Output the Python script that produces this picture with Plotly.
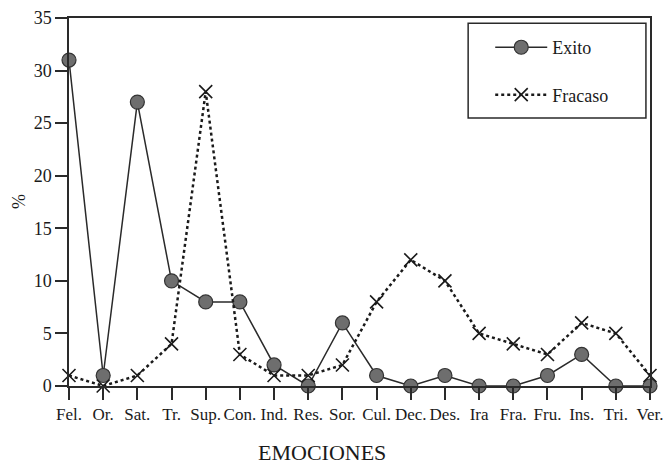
import plotly.graph_objects as go

categories = ["Fel.", "Or.", "Sat.", "Tr.", "Sup.", "Con.", "Ind.", "Res.", "Sor.",
              "Cul.", "Dec.", "Des.", "Ira", "Fra.", "Fru.", "Ins.", "Tri.", "Ver."]
exito = [31, 1, 27, 10, 8, 8, 2, 0, 6, 1, 0, 1, 0, 0, 1, 3, 0, 0]
fracaso = [1, 0, 1, 4, 28, 3, 1, 1, 2, 8, 12, 10, 5, 4, 3, 6, 5, 1]
y_ticks = [0, 5, 10, 15, 20, 25, 30, 35]

x_pos = list(range(len(categories)))
FONT = "Liberation Serif, Times New Roman, serif"

fig = go.Figure()
fig.add_trace(go.Scatter(
    x=x_pos, y=exito, name="Exito", mode="lines+markers",
    line=dict(color="#2a2a2a", width=1.5),
    marker=dict(symbol="circle", size=14, color="#6e6e6e",
                line=dict(color="#333333", width=1.2)),
    cliponaxis=False, legendgroup="a",
))
fig.add_trace(go.Scatter(
    x=x_pos, y=fracaso, name="Fracaso", mode="lines+markers",
    line=dict(color="#1a1a1a", width=2.5, dash="dot"),
    marker=dict(symbol="x-thin", size=13, color="#1a1a1a",
                line=dict(color="#1a1a1a", width=1.6)),
    cliponaxis=False, legendgroup="b",
))

fig.update_layout(
    width=664, height=458,
    margin=dict(l=61, r=22, t=10, b=80),
    paper_bgcolor="white", plot_bgcolor="white",
    font=dict(family=FONT, size=18, color="#1a1a1a"),
    showlegend=True,
    legend=dict(
        x=0.725, y=0.970, xanchor="left", yanchor="top",
        bgcolor="rgba(0,0,0,0)", borderwidth=0,
        font=dict(family=FONT, size=18, color="#1a1a1a"),
        traceorder="grouped", tracegroupgap=21, itemwidth=52,
    ),
    xaxis=dict(
        range=[0, 17], tickmode="array", tickvals=x_pos, ticktext=categories,
        tickangle=0, automargin=False,
        showgrid=False, zeroline=False, showline=True, linecolor="#2a2a2a",
        linewidth=1.5, mirror=True, ticks="outside", ticklen=12, tickwidth=1.5,
        tickcolor="#2a2a2a", tickfont=dict(family=FONT, size=17),
    ),
    yaxis=dict(
        range=[0, 35], tickmode="array", tickvals=y_ticks, automargin=False,
        showgrid=False, zeroline=False, showline=True, linecolor="#2a2a2a",
        linewidth=1.5, mirror=True, ticks="outside", ticklen=12, tickwidth=1.5,
        tickcolor="#2a2a2a", tickfont=dict(family=FONT, size=18),
    ),
    shapes=[dict(type="rect", xref="paper", yref="paper",
                 x0=0.687, x1=0.993, y0=0.728, y1=0.986,
                 line=dict(color="#2a2a2a", width=1.5))],
    annotations=[
        dict(text="EMOCIONES", xref="paper", yref="paper", x=0.435, y=-0.182,
             xanchor="center", yanchor="middle", showarrow=False,
             font=dict(family=FONT, size=22)),
        dict(text="%", xref="paper", yref="paper", x=-0.086, y=0.50,
             xanchor="center", yanchor="middle", showarrow=False, textangle=-90,
             font=dict(family=FONT, size=18)),
    ],
)

fig.write_html("out.html")
